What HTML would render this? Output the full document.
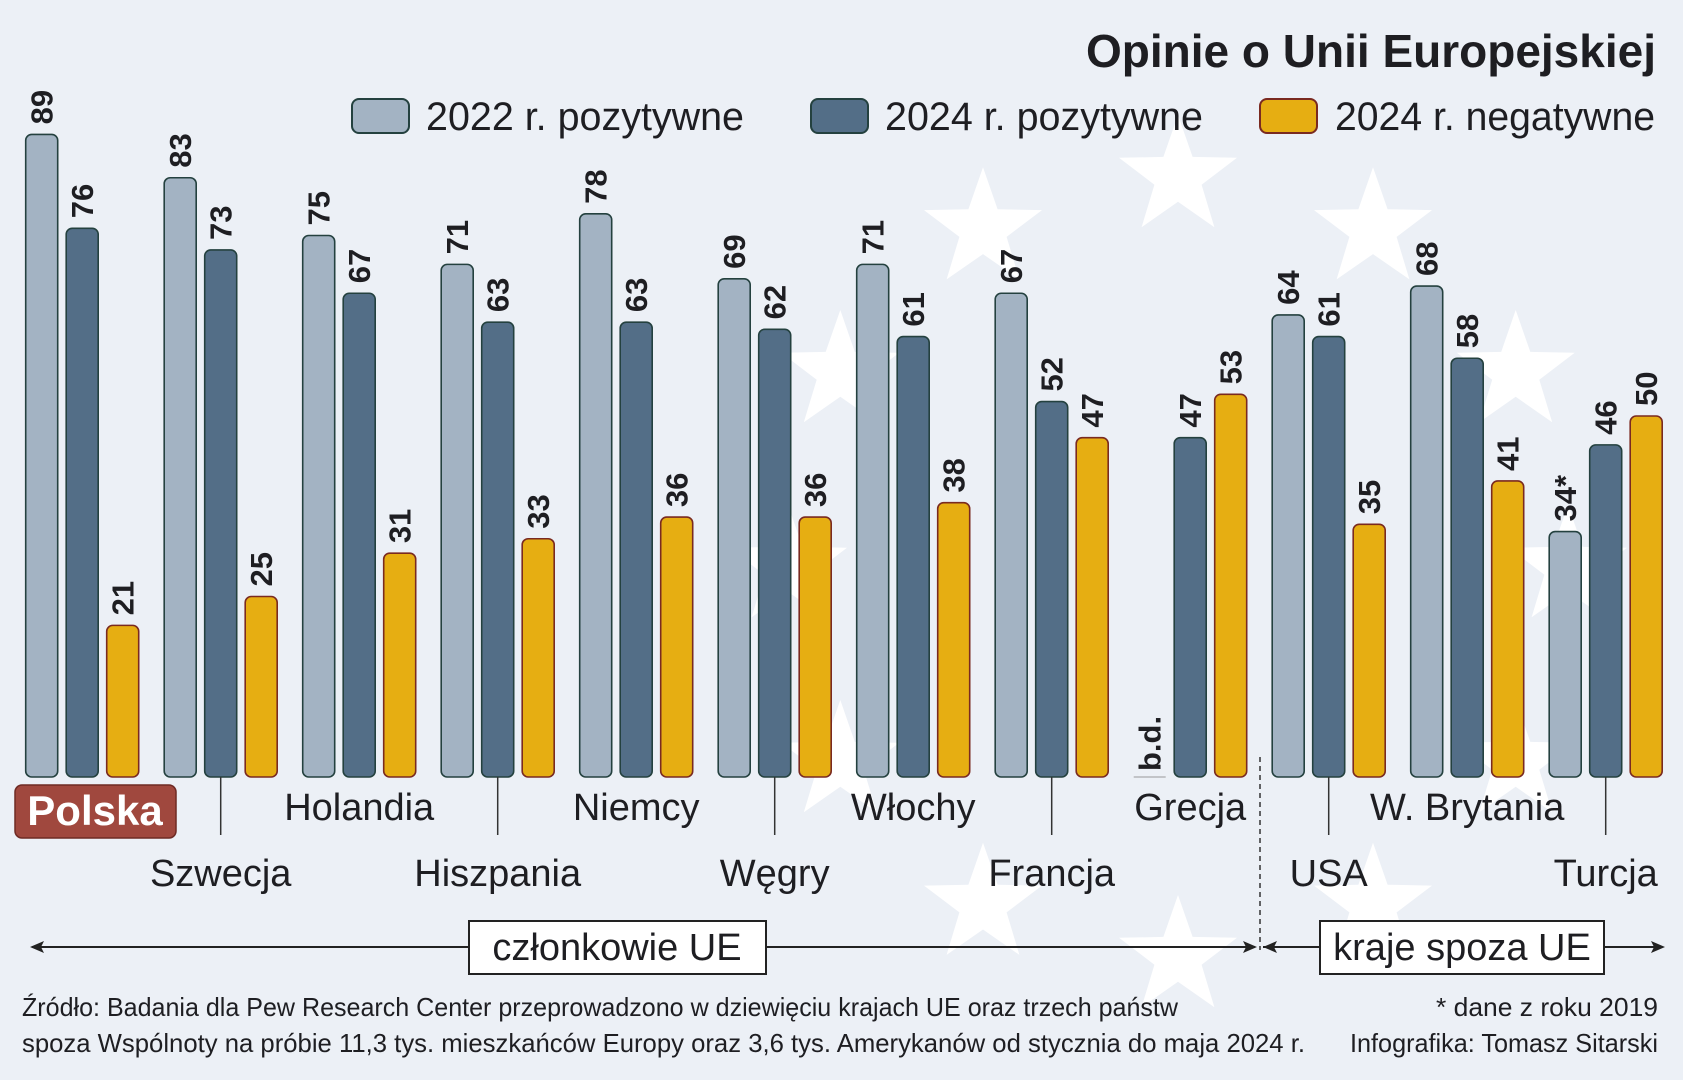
<!DOCTYPE html>
<html><head><meta charset="utf-8">
<style>
html,body{margin:0;padding:0;background:#ecf0f6;}
svg{display:block;}
text{font-family:"Liberation Sans Narrow","Liberation Sans",sans-serif;fill:#1e1e22;}
</style></head>
<body>
<svg id="chart" width="1683" height="1080" viewBox="0 0 1683 1080" xmlns="http://www.w3.org/2000/svg">
<rect x="0" y="0" width="1683" height="1080" fill="#ecf0f6"/>
<g id="stars"></g>
<text x="1656" y="67" text-anchor="end" font-size="46" font-weight="bold">Opinie o Unii Europejskiej</text>
<g>
  <g>
    <rect x="352" y="99" width="57" height="34" rx="7" fill="#a3b3c3" stroke="#24413f" stroke-width="2"/>
    <text x="426" y="130" font-size="40" textLength="318" lengthAdjust="spacingAndGlyphs">2022 r. pozytywne</text>
  </g>
  <g>
    <rect x="811" y="99" width="57" height="34" rx="7" fill="#536e87" stroke="#24413f" stroke-width="2"/>
    <text x="885" y="130" font-size="40" textLength="318" lengthAdjust="spacingAndGlyphs">2024 r. pozytywne</text>
  </g>
  <g>
    <rect x="1260" y="99" width="57" height="34" rx="7" fill="#e6ae12" stroke="#7a2a20" stroke-width="2"/>
    <text x="1335" y="130" font-size="40" textLength="320" lengthAdjust="spacingAndGlyphs">2024 r. negatywne</text>
  </g>
</g>
<g id="bars"></g>
<g id="labels"></g>
<line x1="1260" y1="757" x2="1260" y2="950" stroke="#333" stroke-width="1.5" stroke-dasharray="5,4"/>
<g>
  <line x1="32" y1="947" x2="1255" y2="947" stroke="#222" stroke-width="2"/>
  <polygon points="30,947 44,941 41,947 44,953" fill="#222"/>
  <polygon points="1257,947 1243,941 1246,947 1243,953" fill="#222"/>
  <rect x="469" y="921" width="297" height="53" fill="#fff" stroke="#222" stroke-width="2"/>
  <text x="617" y="960" text-anchor="middle" font-size="38">członkowie UE</text>
</g>
<g>
  <line x1="1263" y1="947" x2="1662" y2="947" stroke="#222" stroke-width="2"/>
  <polygon points="1263,947 1277,941 1274,947 1277,953" fill="#222"/>
  <polygon points="1665,947 1651,941 1654,947 1651,953" fill="#222"/>
  <rect x="1320" y="921" width="284" height="53" fill="#fff" stroke="#222" stroke-width="2"/>
  <text x="1462" y="960" text-anchor="middle" font-size="38">kraje spoza UE</text>
</g>
<text x="22" y="1016" font-size="26" fill="#333" textLength="1156" lengthAdjust="spacingAndGlyphs">Źródło: Badania dla Pew Research Center przeprowadzono w dziewięciu krajach UE oraz trzech państw</text>
<text x="22" y="1052" font-size="26" fill="#333" textLength="1283" lengthAdjust="spacingAndGlyphs">spoza Wspólnoty na próbie 11,3 tys. mieszkańców Europy oraz 3,6 tys. Amerykanów od stycznia do maja 2024 r.</text>
<text x="1436" y="1016" font-size="26" fill="#333" textLength="222" lengthAdjust="spacingAndGlyphs">* dane z roku 2019</text>
<text x="1350" y="1052" font-size="26" fill="#333" textLength="308" lengthAdjust="spacingAndGlyphs">Infografika: Tomasz Sitarski</text>
</svg>
<script>
const countries = ["Polska","Szwecja","Holandia","Hiszpania","Niemcy","Węgry","Włochy","Francja","Grecja","USA","W. Brytania","Turcja"];
const pos2022 = [89,83,75,71,78,69,71,67,null,64,68,34];
const pos2024 = [76,73,67,63,63,62,61,52,47,61,58,46];
const neg2024 = [21,25,31,33,36,36,38,47,53,35,41,50];
const labels2022 = ["89","83","75","71","78","69","71","67","b.d.","64","68","34*"];

const NS = "http://www.w3.org/2000/svg";
const baseY = 777, unit = 7.22;
const g0 = 25.7, gStep = 138.5, bStep = 40.5, bW = 32;
function yScale(v){ return baseY - v*unit; }
function xBar(gi, si){ return g0 + gi*gStep + si*bStep; }
function mk(tag, attrs, parent){ const e=document.createElementNS(NS,tag); for(const k in attrs) e.setAttribute(k,attrs[k]); parent.appendChild(e); return e; }

const starsG = document.getElementById('stars');
function starPts(cx,cy,R){ const r=R*0.4; let p=[]; for(let i=0;i<10;i++){ const a=-Math.PI/2+i*Math.PI/5; const rr=i%2?r:R; p.push((cx+rr*Math.cos(a)).toFixed(1)+','+(cy+rr*Math.sin(a)).toFixed(1)); } return p.join(' '); }
for(let i=0;i<12;i++){
  const a = -Math.PI/2 + i*Math.PI/6;
  const s = mk('polygon',{points:starPts(1178+390*Math.cos(a),567+390*Math.sin(a),62),fill:'#ffffff'},starsG);
  
  
}

const barsG = document.getElementById('bars');
const series = [
  {vals:pos2022, fill:'#a3b3c3', stroke:'#24413f', name:'2022-positive'},
  {vals:pos2024, fill:'#536e87', stroke:'#24413f', name:'2024-positive'},
  {vals:neg2024, fill:'#e6ae12', stroke:'#7a2a20', name:'2024-negative'}
];
series.forEach((s,si)=>{
  s.vals.forEach((v,gi)=>{
    const x = xBar(gi,si), cx = x + bW/2;
    let labelText, ly;
    if(v===null){
      const ln = mk('line',{x1:x,y1:baseY,x2:x+bW,y2:baseY,stroke:'#999','stroke-width':1},barsG);
      
      
      labelText = labels2022[gi]; ly = baseY - 6;
    } else {
      const y = yScale(v);
      const r = mk('rect',{x:x,y:y,width:bW,height:baseY-y,rx:6,fill:s.fill,stroke:s.stroke,'stroke-width':1.6},barsG);
      
      
      labelText = si===0 ? labels2022[gi] : String(v); ly = y - 10;
    }
    const t = mk('text',{x:0,y:0,transform:'translate('+(cx+11)+','+ly+') rotate(-90)','font-size':31,'font-weight':'bold'},barsG);
    t.textContent = labelText;
    
    
  });
});

const labG = document.getElementById('labels');
countries.forEach((c,gi)=>{
  const cx = xBar(gi,1) + bW/2;
  const row = gi%2;
  if(row===1){
    const tk = mk('line',{x1:cx,y1:baseY,x2:cx,y2:835,stroke:'#333','stroke-width':1.5},labG);
    
    
  }
  if(gi===0){
    const b = mk('rect',{x:15,y:785,width:161,height:53,rx:7,fill:'#a0483e',stroke:'#6e2a24','stroke-width':1.5},labG);
    
    
  }
  const t = mk('text',{x:cx,y:row?886:820,'text-anchor':'middle','font-size':38},labG);
  if(gi===0){ t.setAttribute('font-weight','bold'); t.setAttribute('x',95); t.setAttribute('font-size',42); t.setAttribute('y',825); t.style.fill='#fff'; }
  t.textContent = c;
  
  
});
</script>
</body></html>
